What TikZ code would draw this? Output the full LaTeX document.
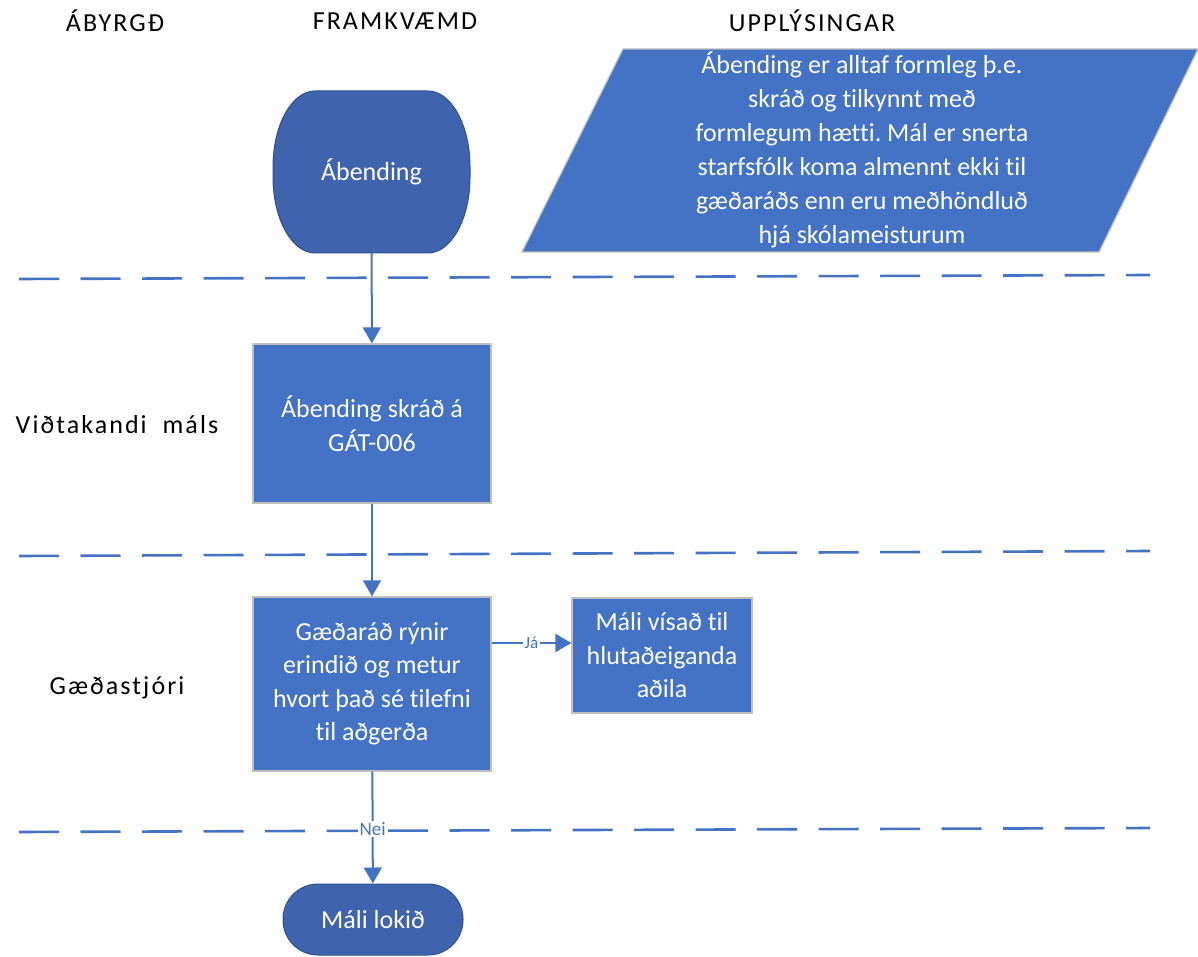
\documentclass[tikz,border=0pt]{standalone}
\usepackage{fontspec}
\setmainfont{Carlito}[Ligatures={NoCommon}]
\newfontfamily\spaced{Carlito}[LetterSpace=8,Ligatures={NoCommon}]
\frenchspacing
\usetikzlibrary{arrows.meta}
\definecolor{boxblue}{HTML}{4472C4}
\definecolor{termblue}{HTML}{3F63AD}
\definecolor{termedge}{HTML}{2F528F}
\definecolor{boxedge}{HTML}{BFBFBF}
\tikzset{
  proc/.style={draw=boxedge, line width=1.2pt, fill=boxblue, text=white, align=center,
    font=\fontsize{26}{33.5}\selectfont, inner sep=0pt},
  term/.style={draw=termedge, line width=1pt, fill=termblue, text=white, align=center,
    font=\fontsize{26}{33.5}\selectfont, inner sep=0pt},
  termtext/.style={text=white, align=center, font=\fontsize{26}{33.5}\selectfont, inner sep=0pt},
  lane/.style={draw=boxblue, line width=2.6pt, dash pattern=on 40pt off 21.5pt},
  flow/.style={draw=boxblue, line width=2pt, -{Triangle[width=18pt,length=16pt]}},
  hdr/.style={font=\spaced\fontsize{26}{30}\selectfont, text=black, inner sep=0pt},
  role/.style={font=\spaced\fontsize{26}{30}\selectfont, text=black, inner sep=0pt},
  edgelab/.style={fill=white, text=boxblue, inner sep=1.5pt}
}
\begin{document}
\begin{tikzpicture}[x=1pt,y=-1pt]
\useasboundingbox (0,0) rectangle (1198,957);
% headers
\node[hdr] (h1) at (115,21) {ÁBYRGÐ};
\node[hdr] (h2) at (395,21) {FRAMKVÆMD};
\node[hdr] (h3) at (812,21) {UPPLÝSINGAR};
% lanes
\draw[lane] (19,279) -- (1150,275);
\draw[lane] (19,556) -- (1150,551);
\draw[lane] (19,832) -- (1150,828);
% role labels
\node[role] (r1) at (117,425) {Viðtakandi\ \ máls};
\node[role] (r2) at (117,688) {Gæðastjóri};
% info parallelogram
\fill[boxblue, draw=boxedge, line width=1.2pt] (623,49) -- (1198,49) -- (1099,252) -- (522,252) -- cycle;
\node[text=white, align=center, font=\fontsize{26}{34}\selectfont, inner sep=0pt] (info) at (862,150)
 {Ábending er alltaf formleg þ.e.\\skráð og tilkynnt með\\formlegum hætti. Mál er snerta\\starfsfólk koma almennt ekki til\\gæðaráðs enn eru meðhöndluð\\hjá skólameisturum};
% start terminator (flat top and bottom, elliptic sides)
\filldraw[fill=termblue, draw=termedge, line width=1pt]
  (315,91) -- (428,91) arc[start angle=-90, end angle=0, x radius=42, y radius=76]
  -- (470,177) arc[start angle=0, end angle=90, x radius=42, y radius=76]
  -- (315,253) arc[start angle=90, end angle=180, x radius=42, y radius=76]
  -- (273,167) arc[start angle=180, end angle=270, x radius=42, y radius=76] -- cycle;
\node[termtext, minimum width=197pt, minimum height=162pt] (start) at (371.5,172) {Ábending};
% nodes
\node[proc, minimum width=238pt, minimum height=159pt] (b1) at (372,423.5) {Ábending skráð á\\GÁT-006};
\node[proc, minimum width=238pt, minimum height=174pt] (b2) at (372,684) {Gæðaráð rýnir\\erindið og metur\\hvort það sé tilefni\\til aðgerða};
\node[proc, minimum width=180pt, minimum height=115pt] (b3) at (662,655.5) {Máli vísað til\\hlutaðeiganda\\aðila};
\node[term, rounded corners=35pt, minimum width=180pt, minimum height=71pt] (end) at (373,919.5) {Máli lokið};
% connectors
\draw[flow] (start) -- (b1);
\draw[flow] (b1) -- (b2);
\draw[flow] (b2.east |- 0,643) -- node[edgelab, pos=0.5, font=\fontsize{17}{20}\selectfont] {Já} (b3.west |- 0,643);
\draw[flow] (b2) -- node[edgelab, pos=0.51, font=\fontsize{19}{22}\selectfont] {Nei} (end);
\end{tikzpicture}
\end{document}
